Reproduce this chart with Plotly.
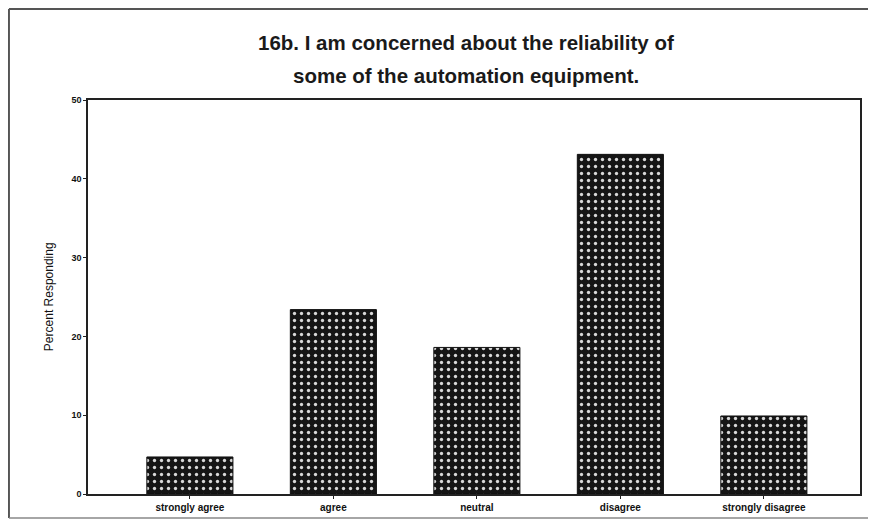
import plotly.graph_objects as go

categories = ["strongly agree", "agree", "neutral", "disagree", "strongly disagree"]
percents = [4.7, 23.4, 18.6, 43.1, 9.9]
title_line1 = "16b. I am concerned about the reliability of"
title_line2 = "some of the automation equipment."
y_title = "Percent Responding"
y_ticks = [0, 10, 20, 30, 40, 50]

fig = go.Figure(go.Bar(
    x=categories, y=percents, width=0.6,
    marker=dict(
        color="#151515",
        line=dict(color="#111111", width=1),
        pattern=dict(shape=".", fgcolor="#d8d8d8", bgcolor="#151515",
                     size=7, solidity=0.18, fillmode="replace"),
    ),
    showlegend=False,
))

fig.update_layout(
    width=860, height=511,
    margin=dict(l=80, r=6, t=92, b=25),
    paper_bgcolor="white", plot_bgcolor="white",
    font=dict(family="Liberation Sans, Arial, sans-serif", color="#1a1a1a"),
)
fig.update_xaxes(
    range=[-0.71, 4.67], showline=True, linecolor="#222", linewidth=1.5,
    mirror=True, ticks="outside", ticklen=3, tickcolor="#222",
    tickfont=dict(size=10, color="#111", weight="bold"), showgrid=False,
)
fig.update_yaxes(
    range=[0, 50], tickvals=y_ticks, showline=True, linecolor="#222",
    linewidth=1.5, mirror=True, ticks="outside", ticklen=3, tickcolor="#222",
    tickfont=dict(size=9, color="#111", weight="bold"), showgrid=False,
    zeroline=False,
)

fig.add_annotation(text=y_title, x=-0.062, y=0.5, xref="paper", yref="paper",
                   textangle=-90, showarrow=False,
                   font=dict(size=12, color="#111"))
fig.add_annotation(text=title_line1, x=0.49, y=1.147, xref="paper", yref="paper",
                   yanchor="middle", showarrow=False,
                   font=dict(size=20.5, color="#1a1a1a", weight="bold"))
fig.add_annotation(text=title_line2, x=0.49, y=1.061, xref="paper", yref="paper",
                   yanchor="middle", showarrow=False,
                   font=dict(size=20.5, color="#1a1a1a", weight="bold"))

# outer frame (left, top, bottom edges)
frame = dict(color="#555", width=2)
fig.add_shape(type="line", xref="paper", yref="paper",
              x0=-0.1024, x1=-0.1024, y0=-0.0609, y1=1.231, line=frame)
fig.add_shape(type="line", xref="paper", yref="paper",
              x0=-0.1024, x1=1.3, y0=1.231, y1=1.231, line=frame)
fig.add_shape(type="line", xref="paper", yref="paper",
              x0=-0.1024, x1=1.3, y0=-0.0609, y1=-0.0609,
              line=dict(color="#888", width=1.5))

fig.write_html("out.html")
